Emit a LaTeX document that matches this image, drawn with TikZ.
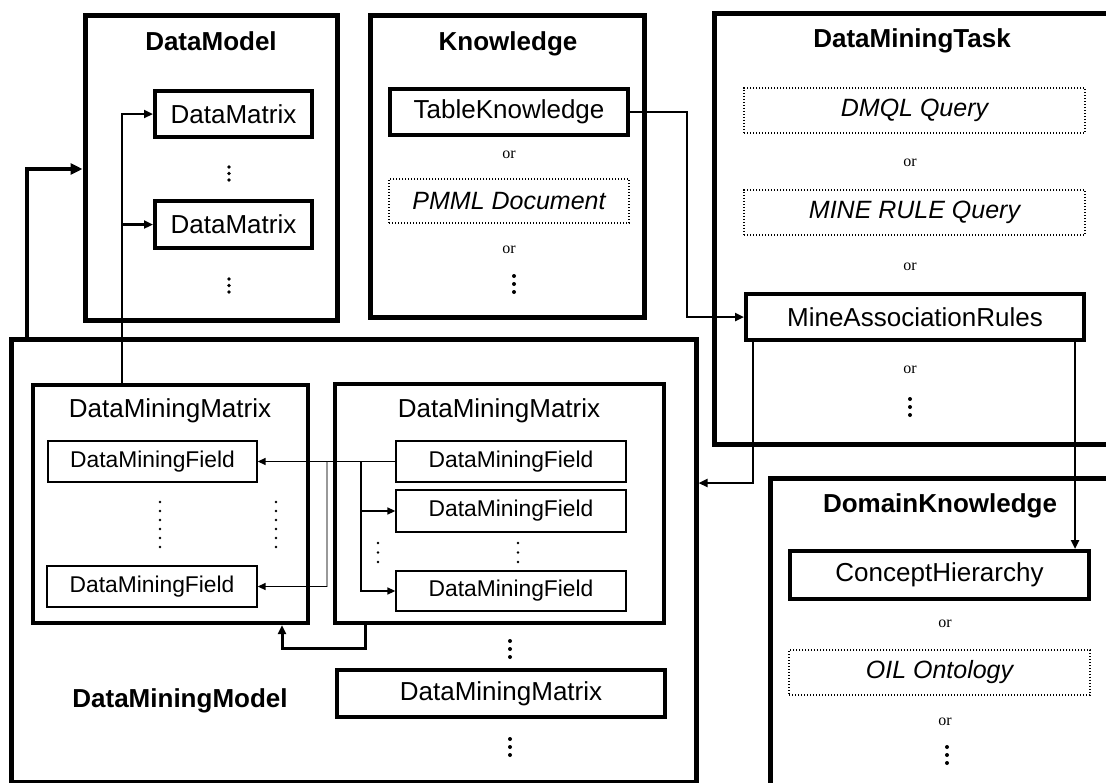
\documentclass[tikz,border=0pt]{standalone}
\usepackage{fontspec}
\setmainfont{Liberation Sans}
\newfontfamily\orfont{Liberation Serif}
\usetikzlibrary{arrows.meta}
\newcommand{\dotcol}[5]{\foreach \i in {1,...,#3} \fill (#1,{#2+(\i-1)*#4}) circle (#5);}
\begin{document}
\begin{tikzpicture}[x=1pt,y=-1pt,
  bigbox/.style={draw, line width=5pt, inner sep=0pt},
  midbox/.style={draw, line width=4pt, inner sep=0pt, font=\fontsize{26}{30}\selectfont},
  fieldbox/.style={draw, line width=1.3pt, inner sep=0pt, font=\fontsize{22.8}{26}\selectfont},
  dotbox/.style={draw, line width=1.3pt, dash pattern=on 1.3pt off 1.7pt, inner sep=0pt, font=\fontsize{25}{29}\selectfont\itshape},
  title/.style={anchor=base, inner sep=0pt, font=\fontsize{26}{30}\selectfont\bfseries},
  subtitle/.style={anchor=base, inner sep=0pt, font=\fontsize{26}{30}\selectfont},
  ortext/.style={inner sep=0pt, font=\orfont\fontsize{16}{18}\selectfont},
  conn/.style={line width=2.4pt, -{Triangle[length=9pt,width=8pt]}},
  connthick/.style={line width=3.5pt, -{Triangle[length=12pt,width=11pt]}},
  connthin/.style={line width=1.4pt, -{Triangle[length=8pt,width=7pt]}},
  plainthin/.style={line width=1.4pt},
  plaingray/.style={line width=1.6pt, draw=black!40},
  connmid/.style={line width=3pt, -{Triangle[length=9pt,width=8pt]}}
]
\useasboundingbox (0,0) rectangle (1106,782);
\fill[white] (0,0) rectangle (1106,782);
\clip (0,0) rectangle (1106,782);

% ---------- DataModel ----------
\node[bigbox, minimum width=252pt, minimum height=305pt] (dm) at (211,167.5) {};
\node[title] (dmt) at (211,50) {DataModel};
\node[midbox, minimum width=157pt, minimum height=46pt] (dx1) at (233.5,114) {DataMatrix};
\node[midbox, minimum width=157pt, minimum height=47pt] (dx2) at (233.5,224.5) {DataMatrix};
\dotcol{229}{167}{3}{6.5}{1.8pt}
\dotcol{229}{279}{3}{6.5}{1.8pt}

% ---------- Knowledge ----------
\node[bigbox, minimum width=274pt, minimum height=302pt] (kn) at (507,166) {};
\node[title] (knt) at (508,50) {Knowledge};
\node[midbox, minimum width=238pt, minimum height=46pt] (tk) at (509,112) {TableKnowledge};
\node[ortext] (or1) at (509,155) {or};
\node[dotbox, minimum width=240pt, minimum height=44pt] (pmml) at (509,201) {PMML Document};
\node[ortext] (or2) at (509,250) {or};
\dotcol{514}{276}{3}{8}{2pt}

% ---------- DataMiningTask ----------
\node[bigbox, minimum width=398pt, minimum height=431pt] (dmtask) at (913,228.5) {};
\node[title] (dmtaskt) at (912,47) {DataMiningTask};
\node[dotbox, minimum width=341pt, minimum height=45pt] (dmql) at (914.5,110.5) {DMQL Query};
\node[ortext] (or3) at (910,163) {or};
\node[dotbox, minimum width=341pt, minimum height=45pt] (mrq) at (914.5,212.5) {MINE RULE Query};
\node[ortext] (or4) at (910,267) {or};
\node[midbox, minimum width=338pt, minimum height=46pt] (mar) at (915,317) {MineAssociationRules};
\node[ortext] (or5) at (910,370) {or};
\dotcol{910}{399}{3}{8}{2pt}

% ---------- DomainKnowledge ----------
\node[bigbox, minimum width=342pt, minimum height=312pt] (dk) at (941,634) {};
\node[title] (dkt) at (940,512) {DomainKnowledge};
\node[midbox, minimum width=299pt, minimum height=48pt] (ch) at (939.5,575) {ConceptHierarchy};
\node[ortext] (or6) at (945,624) {or};
\node[dotbox, minimum width=301pt, minimum height=45pt] (oil) at (939.5,672.5) {OIL Ontology};
\node[ortext] (or7) at (945,722) {or};
\dotcol{947}{747}{3}{8}{2pt}

% ---------- DataMiningModel ----------
\node[bigbox, minimum width=685pt, minimum height=443pt] (dmm) at (353.5,560.5) {};
\node[title] (dmmt) at (180,707) {DataMiningModel};

\node[midbox, minimum width=275pt, minimum height=238pt] (mxl) at (170.5,504) {};
\node[subtitle] (mxlt) at (170,417) {DataMiningMatrix};
\node[fieldbox, minimum width=209pt, minimum height=41pt] (fl1) at (152.5,461.5) {DataMiningField};
\node[fieldbox, minimum width=210pt, minimum height=41pt] (fl2) at (152,586.5) {DataMiningField};
\dotcol{160}{502}{6}{9}{1.4pt}
\dotcol{276}{502}{6}{9}{1.4pt}

\node[midbox, minimum width=329pt, minimum height=239pt] (mxr) at (499.5,503.5) {};
\node[subtitle] (mxrt) at (499,417) {DataMiningMatrix};
\node[fieldbox, minimum width=230pt, minimum height=41pt] (fa) at (511,461.5) {DataMiningField};
\node[fieldbox, minimum width=230pt, minimum height=42pt] (fb) at (511,511) {DataMiningField};
\node[fieldbox, minimum width=230pt, minimum height=40pt] (fc) at (511,591) {DataMiningField};
\dotcol{378}{543}{3}{9.5}{1.4pt}
\dotcol{518}{543}{3}{9.5}{1.4pt}

\dotcol{510}{641}{3}{8}{2pt}
\node[midbox, minimum width=328pt, minimum height=47pt] (mxb) at (501,693.5) {DataMiningMatrix};
\dotcol{510}{739}{3}{8}{2pt}

% ---------- connectors ----------
\coordinate (k1) at (687,112);
\draw[conn] (tk.east) -- (k1) |- (mar.west);

\coordinate (m1) at (753,483);
\draw[conn] (mar.south -| m1) -- (m1) -- (m1 -| dmm.east);

\coordinate (m2) at (1075,340);
\draw[conn] (mar.south -| m2) -- (ch.north -| m2);

\coordinate (l1) at (27,169);
\draw[connthick] (dmm.north -| l1) -- (l1) -- (l1 -| dm.west);

\coordinate (l2) at (122,114);
\draw[conn] (mxl.north -| l2) -- (l2) -- (dx1.west);
\draw[conn] (l2 |- dx2.west) -- (dx2.west);

\draw[connthin] (fa.west) -- (fl1.east);
\coordinate (j1) at (361,461.5);
\draw[connthin] (j1) |- (fc.west);
\draw[connthin] (j1 |- fb.west) -- (fb.west);
\coordinate (j2) at (327,461.5);
\draw[plaingray] (j2) -- (j2 |- fl2.east);
\draw[connthin] (j2 |- fl2.east) -- (fl2.east);

\coordinate (b1) at (365,648);
\coordinate (b2) at (282,648);
\draw[connmid] (mxr.south -| b1) -- (b1) -- (b2) -- (mxl.south -| b2);
\end{tikzpicture}
\end{document}
